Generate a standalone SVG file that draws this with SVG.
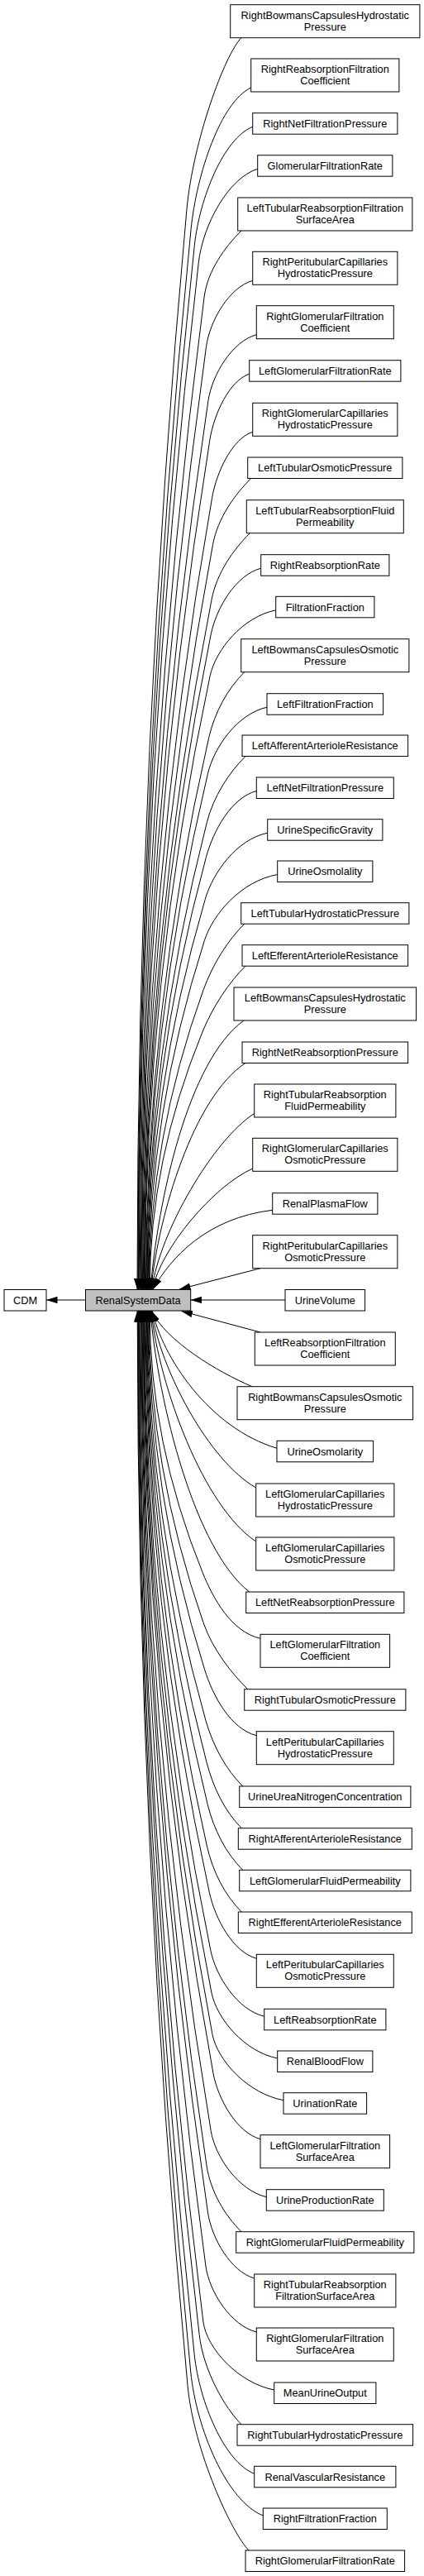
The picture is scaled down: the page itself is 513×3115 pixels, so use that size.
<svg xmlns="http://www.w3.org/2000/svg" width="513" height="3115" viewBox="0 0 513 3115">
<defs>
<style>
.node rect{fill:#fff;stroke:#000;stroke-width:1}
.node.main rect{fill:#bfbfbf}
.node text{font-family:"Liberation Sans",Arial,Helvetica,sans-serif;font-size:12.8px;text-anchor:middle;fill:#000}
#edges path{fill:none;stroke:#000;stroke-width:1;marker-end:url(#ah)}
</style>
<marker id="ah" markerUnits="userSpaceOnUse" markerWidth="14" markerHeight="9" refX="13.5" refY="4.2" orient="auto">
<path d="M0,0 L13.5,4.2 L0,8.4 Z" fill="#000" stroke="none"/>
</marker>
</defs>
<rect width="513" height="3115" fill="#fff"/>
<g id="edges">
<path d="M103.5,1572 L56,1572"/>
<path d="M292,45.7 C272,65.7 233.5,170.5 225.9,253.7 Q166,906.4 166,1559"/>
<path d="M303.7,106 C267.4,123.2 237.9,209.1 231,277.8 Q166.8,918.4 166.8,1559"/>
<path d="M305.7,153.2 C270.5,167.6 241.5,239.3 235.3,296.7 Q167.4,927.9 167.4,1559"/>
<path d="M311.7,204.2 C276,215.5 245.6,271.9 240.3,317.1 Q168.1,938.1 168.1,1559"/>
<path d="M292,279 C272,299 251.3,327 247.1,359 Q169.1,959 169.1,1559"/>
<path d="M305.7,339.3 C277.6,347.3 254,387.3 249.5,419.3 Q170,989.2 170,1559"/>
<path d="M310.3,404.7 C281.1,412.7 256.7,452.7 251.9,484.7 Q170.8,1021.9 170.8,1559"/>
<path d="M301.7,452.2 C277.7,460.2 258.9,500.2 253.8,532.2 Q171.5,1045.6 171.5,1559"/>
<path d="M305.7,522.3 C281.1,530.3 262.1,570.3 256.5,602.3 Q172.4,1080.7 172.4,1559"/>
<path d="M303.7,578.5 C283.7,598.5 263.5,626.5 257.5,658.5 Q173.2,1108.8 173.2,1559"/>
<path d="M302.3,644.7 C282.3,664.7 262.4,692.7 256.1,724.7 Q174.1,1141.9 174.1,1559"/>
<path d="M315.7,687.2 C285.4,695.2 261.7,735.2 255.2,767.2 Q174.7,1163.1 174.7,1559"/>
<path d="M333.7,737.8 C293.8,745.8 260.8,785.8 254,817.8 Q175.3,1188.4 175.3,1559"/>
<path d="M295.7,812.7 C275.7,832.7 259.8,860.7 252.5,892.7 Q176.4,1225.9 176.4,1559"/>
<path d="M323,855.2 C287.3,863.2 259.2,903.2 251.5,935.2 Q176.9,1247.1 176.9,1559"/>
<path d="M297,914.5 C277,934.5 258.5,962.5 250.3,994.5 Q177.7,1276.8 177.7,1559"/>
<path d="M310.3,956.5 C279.8,964.5 258.1,1004.5 249.4,1036.5 Q178.3,1297.8 178.3,1559"/>
<path d="M323.7,1007.2 C286,1015.2 257.7,1055.2 248.3,1087.2 Q179,1323.1 179,1559"/>
<path d="M335.7,1057.5 C291.5,1065.5 257.6,1105.5 247.3,1137.5 Q179.7,1348.3 179.7,1559"/>
<path d="M295.7,1117.2 C275.7,1137.2 257.6,1165.2 246,1197.2 Q180.5,1378.1 180.5,1559"/>
<path d="M297,1168.2 C277,1188.2 257.9,1216.2 244.8,1248.2 Q181.1,1403.6 181.1,1559"/>
<path d="M295,1234 C227.2,1282.8 191,1451.7 182,1559"/>
<path d="M297,1285.5 C234.1,1326.5 191.8,1468.7 182.7,1559"/>
<path d="M307.7,1346.5 C258.1,1378.4 193.5,1488.9 183.6,1559"/>
<path d="M305.7,1413 C257.2,1434.9 194.2,1510.8 184.5,1559"/>
<path d="M329.7,1463.3 C250.2,1472.9 206.8,1520.7 185.1,1559"/>
<path d="M315,1533.7 L217,1559"/>
<path d="M345,1572 L230.7,1572"/>
<path d="M315,1611 L219.5,1585.5"/>
<path d="M305,1676.7 C262.3,1658.4 201.3,1621.7 183,1585"/>
<path d="M335,1751.3 C252.1,1726.4 196.3,1639.9 184.2,1585"/>
<path d="M309.7,1799 C252.9,1766.9 193.6,1655.6 183.5,1585"/>
<path d="M309.7,1864 C246.2,1822.1 192.9,1677.1 182.7,1585"/>
<path d="M301.7,1925 C235.8,1874 191.4,1697.2 181.8,1585"/>
<path d="M315,1981.3 C280,1973.3 257.9,1933.3 245,1901.3 Q181.1,1743.2 181.1,1585"/>
<path d="M299.7,2042.7 C279.7,2022.7 257.4,1994.7 246.2,1962.7 Q180.2,1773.9 180.2,1585"/>
<path d="M310.3,2098.7 C278.9,2090.7 257.5,2050.7 247.5,2018.7 Q179.5,1801.9 179.5,1585"/>
<path d="M293.7,2160 C273.7,2140 257.9,2112 248.8,2080 Q178.7,1832.5 178.7,1585"/>
<path d="M292.3,2210.7 C272.3,2190.7 258.3,2162.7 249.9,2130.7 Q178,1857.9 178,1585"/>
<path d="M293.7,2261.3 C273.7,2241.3 258.9,2213.3 251,2181.3 Q177.3,1883.2 177.3,1585"/>
<path d="M292.3,2312 C272.3,2292 257.6,2264 250.3,2232 Q176.6,1908.5 176.6,1585"/>
<path d="M310.3,2368.3 C281.8,2360.3 260.3,2320.3 253.3,2288.3 Q175.9,1936.7 175.9,1585"/>
<path d="M319.7,2438.3 C287.2,2430.3 261.4,2390.3 254.8,2358.3 Q174.9,1971.7 174.9,1585"/>
<path d="M335.7,2489 C295.7,2481 262.1,2441 255.8,2409 Q174.2,1997 174.2,1585"/>
<path d="M343,2539.7 C300,2531.7 263,2491.7 256.9,2459.7 Q173.5,2022.4 173.5,1585"/>
<path d="M315,2586.7 C286.5,2578.7 263.8,2538.7 257.9,2506.7 Q172.9,2045.9 172.9,1585"/>
<path d="M322.3,2656.7 C288.7,2648.7 260.6,2608.7 255.2,2576.7 Q172,2080.9 172,1585"/>
<path d="M292,2698.7 C272,2678.7 254.9,2650.7 250,2618.7 Q171.4,2101.9 171.4,1585"/>
<path d="M307.7,2755 C279.5,2747 256.1,2707 251.4,2675 Q170.6,2130 170.6,1585"/>
<path d="M310.3,2820 C279.6,2812 253.3,2772 248.9,2740 Q169.8,2162.5 169.8,1585"/>
<path d="M331.7,2890 C288.7,2881.7 250,2840.2 245.8,2807 Q168.8,2196 168.8,1585"/>
<path d="M292,2931.7 C272,2911.7 246.3,2866.9 241.2,2823.7 Q168.2,2204.4 168.2,1585"/>
<path d="M307.7,2991.3 C271.4,2976.9 241.4,2905 235.2,2847.5 Q167.4,2216.3 167.4,1585"/>
<path d="M318.3,3042 C274.5,3024.6 237.6,2937.5 230.7,2867.8 Q166.8,2226.4 166.8,1585"/>
<path d="M301,3084 C281,3064 234.5,2964.4 227,2884.6 Q166.2,2234.8 166.2,1585"/>
</g>
<g id="CDM" class="node"><rect x="5" y="1559.5" width="51" height="25.5"/><text x="30.5" y="1576.8">CDM</text></g>
<g id="RenalSystemData" class="node main"><rect x="103.5" y="1559.5" width="127.2" height="25.5"/><text x="167.1" y="1576.8">RenalSystemData</text></g>
<g id="RightBowmansCapsulesHydrostaticPressure" class="node"><rect x="278.7" y="5.7" width="229.2" height="40"/><text x="393.3" y="22.5">RightBowmansCapsulesHydrostatic</text><text x="393.3" y="36.7">Pressure</text></g>
<g id="RightReabsorptionFiltrationCoefficient" class="node"><rect x="303.7" y="71" width="179.2" height="40"/><text x="393.3" y="87.8">RightReabsorptionFiltration</text><text x="393.3" y="102">Coefficient</text></g>
<g id="RightNetFiltrationPressure" class="node"><rect x="305.7" y="136.7" width="175.2" height="25.5"/><text x="393.3" y="154">RightNetFiltrationPressure</text></g>
<g id="GlomerularFiltrationRate" class="node"><rect x="311.7" y="187.7" width="163.2" height="25.5"/><text x="393.3" y="205">GlomerularFiltrationRate</text></g>
<g id="LeftTubularReabsorptionFiltrationSurfaceArea" class="node"><rect x="287.7" y="239" width="211.2" height="40"/><text x="393.3" y="255.8">LeftTubularReabsorptionFiltration</text><text x="393.3" y="270">SurfaceArea</text></g>
<g id="RightPeritubularCapillariesHydrostaticPressure" class="node"><rect x="305.7" y="304.3" width="175.2" height="40"/><text x="393.3" y="321.1">RightPeritubularCapillaries</text><text x="393.3" y="335.3">HydrostaticPressure</text></g>
<g id="RightGlomerularFiltrationCoefficient" class="node"><rect x="310.3" y="369.7" width="166" height="40"/><text x="393.3" y="386.5">RightGlomerularFiltration</text><text x="393.3" y="400.7">Coefficient</text></g>
<g id="LeftGlomerularFiltrationRate" class="node"><rect x="301.7" y="435.7" width="183.2" height="25.5"/><text x="393.3" y="453">LeftGlomerularFiltrationRate</text></g>
<g id="RightGlomerularCapillariesHydrostaticPressure" class="node"><rect x="305.7" y="487.3" width="175.2" height="40"/><text x="393.3" y="504.1">RightGlomerularCapillaries</text><text x="393.3" y="518.3">HydrostaticPressure</text></g>
<g id="LeftTubularOsmoticPressure" class="node"><rect x="299.7" y="553" width="187.2" height="25.5"/><text x="393.3" y="570.3">LeftTubularOsmoticPressure</text></g>
<g id="LeftTubularReabsorptionFluidPermeability" class="node"><rect x="298.3" y="604.7" width="190" height="40"/><text x="393.3" y="621.5">LeftTubularReabsorptionFluid</text><text x="393.3" y="635.7">Permeability</text></g>
<g id="RightReabsorptionRate" class="node"><rect x="315.7" y="670.7" width="155.2" height="25.5"/><text x="393.3" y="688">RightReabsorptionRate</text></g>
<g id="FiltrationFraction" class="node"><rect x="333.7" y="721.3" width="119.2" height="25.5"/><text x="393.3" y="738.6">FiltrationFraction</text></g>
<g id="LeftBowmansCapsulesOsmoticPressure" class="node"><rect x="291.7" y="772.7" width="203.2" height="40"/><text x="393.3" y="789.5">LeftBowmansCapsulesOsmotic</text><text x="393.3" y="803.7">Pressure</text></g>
<g id="LeftFiltrationFraction" class="node"><rect x="323" y="838.7" width="140.6" height="25.5"/><text x="393.3" y="856">LeftFiltrationFraction</text></g>
<g id="LeftAfferentArterioleResistance" class="node"><rect x="293" y="889" width="200.6" height="25.5"/><text x="393.3" y="906.3">LeftAfferentArterioleResistance</text></g>
<g id="LeftNetFiltrationPressure" class="node"><rect x="310.3" y="940" width="166" height="25.5"/><text x="393.3" y="957.3">LeftNetFiltrationPressure</text></g>
<g id="UrineSpecificGravity" class="node"><rect x="323.7" y="990.7" width="139.2" height="25.5"/><text x="393.3" y="1008">UrineSpecificGravity</text></g>
<g id="UrineOsmolality" class="node"><rect x="335.7" y="1041" width="115.2" height="25.5"/><text x="393.3" y="1058.3">UrineOsmolality</text></g>
<g id="LeftTubularHydrostaticPressure" class="node"><rect x="291.7" y="1091.7" width="203.2" height="25.5"/><text x="393.3" y="1109">LeftTubularHydrostaticPressure</text></g>
<g id="LeftEfferentArterioleResistance" class="node"><rect x="293" y="1142.7" width="200.6" height="25.5"/><text x="393.3" y="1160">LeftEfferentArterioleResistance</text></g>
<g id="LeftBowmansCapsulesHydrostaticPressure" class="node"><rect x="283" y="1194" width="220.6" height="40"/><text x="393.3" y="1210.8">LeftBowmansCapsulesHydrostatic</text><text x="393.3" y="1225">Pressure</text></g>
<g id="RightNetReabsorptionPressure" class="node"><rect x="293" y="1260" width="200.6" height="25.5"/><text x="393.3" y="1277.3">RightNetReabsorptionPressure</text></g>
<g id="RightTubularReabsorptionFluidPermeability" class="node"><rect x="307.7" y="1311" width="171.2" height="40"/><text x="393.3" y="1327.8">RightTubularReabsorption</text><text x="393.3" y="1342">FluidPermeability</text></g>
<g id="RightGlomerularCapillariesOsmoticPressure" class="node"><rect x="305.7" y="1376.3" width="175.2" height="40"/><text x="393.3" y="1393.1">RightGlomerularCapillaries</text><text x="393.3" y="1407.3">OsmoticPressure</text></g>
<g id="RenalPlasmaFlow" class="node"><rect x="329.7" y="1442.7" width="127.2" height="25.5"/><text x="393.3" y="1460">RenalPlasmaFlow</text></g>
<g id="RightPeritubularCapillariesOsmoticPressure" class="node"><rect x="305.7" y="1493.7" width="175.2" height="40"/><text x="393.3" y="1510.5">RightPeritubularCapillaries</text><text x="393.3" y="1524.7">OsmoticPressure</text></g>
<g id="UrineVolume" class="node"><rect x="345" y="1559.5" width="96.6" height="25.5"/><text x="393.3" y="1576.8">UrineVolume</text></g>
<g id="LeftReabsorptionFiltrationCoefficient" class="node"><rect x="308.3" y="1611" width="170" height="40"/><text x="393.3" y="1627.8">LeftReabsorptionFiltration</text><text x="393.3" y="1642">Coefficient</text></g>
<g id="RightBowmansCapsulesOsmoticPressure" class="node"><rect x="287" y="1676.7" width="212.6" height="40"/><text x="393.3" y="1693.5">RightBowmansCapsulesOsmotic</text><text x="393.3" y="1707.7">Pressure</text></g>
<g id="UrineOsmolarity" class="node"><rect x="335" y="1742.3" width="116.6" height="25.5"/><text x="393.3" y="1759.6">UrineOsmolarity</text></g>
<g id="LeftGlomerularCapillariesHydrostaticPressure" class="node"><rect x="309.7" y="1794" width="167.2" height="40"/><text x="393.3" y="1810.8">LeftGlomerularCapillaries</text><text x="393.3" y="1825">HydrostaticPressure</text></g>
<g id="LeftGlomerularCapillariesOsmoticPressure" class="node"><rect x="309.7" y="1859" width="167.2" height="40"/><text x="393.3" y="1875.8">LeftGlomerularCapillaries</text><text x="393.3" y="1890">OsmoticPressure</text></g>
<g id="LeftNetReabsorptionPressure" class="node"><rect x="297.7" y="1925" width="191.2" height="25.5"/><text x="393.3" y="1942.3">LeftNetReabsorptionPressure</text></g>
<g id="LeftGlomerularFiltrationCoefficient" class="node"><rect x="315" y="1976.3" width="156.6" height="40"/><text x="393.3" y="1993.1">LeftGlomerularFiltration</text><text x="393.3" y="2007.3">Coefficient</text></g>
<g id="RightTubularOsmoticPressure" class="node"><rect x="295.7" y="2042.7" width="195.2" height="25.5"/><text x="393.3" y="2060">RightTubularOsmoticPressure</text></g>
<g id="LeftPeritubularCapillariesHydrostaticPressure" class="node"><rect x="310.3" y="2093.7" width="166" height="40"/><text x="393.3" y="2110.5">LeftPeritubularCapillaries</text><text x="393.3" y="2124.7">HydrostaticPressure</text></g>
<g id="UrineUreaNitrogenConcentration" class="node"><rect x="289.7" y="2160" width="207.2" height="25.5"/><text x="393.3" y="2177.3">UrineUreaNitrogenConcentration</text></g>
<g id="RightAfferentArterioleResistance" class="node"><rect x="288.3" y="2210.7" width="210" height="25.5"/><text x="393.3" y="2228">RightAfferentArterioleResistance</text></g>
<g id="LeftGlomerularFluidPermeability" class="node"><rect x="289.7" y="2261.3" width="207.2" height="25.5"/><text x="393.3" y="2278.6">LeftGlomerularFluidPermeability</text></g>
<g id="RightEfferentArterioleResistance" class="node"><rect x="288.3" y="2312" width="210" height="25.5"/><text x="393.3" y="2329.3">RightEfferentArterioleResistance</text></g>
<g id="LeftPeritubularCapillariesOsmoticPressure" class="node"><rect x="310.3" y="2363.3" width="166" height="40"/><text x="393.3" y="2380.1">LeftPeritubularCapillaries</text><text x="393.3" y="2394.3">OsmoticPressure</text></g>
<g id="LeftReabsorptionRate" class="node"><rect x="319.7" y="2429.3" width="147.2" height="25.5"/><text x="393.3" y="2446.6">LeftReabsorptionRate</text></g>
<g id="RenalBloodFlow" class="node"><rect x="335.7" y="2480" width="115.2" height="25.5"/><text x="393.3" y="2497.3">RenalBloodFlow</text></g>
<g id="UrinationRate" class="node"><rect x="343" y="2530.7" width="100.6" height="25.5"/><text x="393.3" y="2548">UrinationRate</text></g>
<g id="LeftGlomerularFiltrationSurfaceArea" class="node"><rect x="315" y="2581.7" width="156.6" height="40"/><text x="393.3" y="2598.5">LeftGlomerularFiltration</text><text x="393.3" y="2612.7">SurfaceArea</text></g>
<g id="UrineProductionRate" class="node"><rect x="322.3" y="2647.7" width="142" height="25.5"/><text x="393.3" y="2665">UrineProductionRate</text></g>
<g id="RightGlomerularFluidPermeability" class="node"><rect x="285.7" y="2698.7" width="215.2" height="25.5"/><text x="393.3" y="2716">RightGlomerularFluidPermeability</text></g>
<g id="RightTubularReabsorptionFiltrationSurfaceArea" class="node"><rect x="307.7" y="2750" width="171.2" height="40"/><text x="393.3" y="2766.8">RightTubularReabsorption</text><text x="393.3" y="2781">FiltrationSurfaceArea</text></g>
<g id="RightGlomerularFiltrationSurfaceArea" class="node"><rect x="310.3" y="2815" width="166" height="40"/><text x="393.3" y="2831.8">RightGlomerularFiltration</text><text x="393.3" y="2846">SurfaceArea</text></g>
<g id="MeanUrineOutput" class="node"><rect x="331.7" y="2881" width="123.2" height="25.5"/><text x="393.3" y="2898.3">MeanUrineOutput</text></g>
<g id="RightTubularHydrostaticPressure" class="node"><rect x="287" y="2931.7" width="212.6" height="25.5"/><text x="393.3" y="2949">RightTubularHydrostaticPressure</text></g>
<g id="RenalVascularResistance" class="node"><rect x="307.7" y="2982.3" width="171.2" height="25.5"/><text x="393.3" y="2999.6">RenalVascularResistance</text></g>
<g id="RightFiltrationFraction" class="node"><rect x="318.3" y="3033" width="150" height="25.5"/><text x="393.3" y="3050.3">RightFiltrationFraction</text></g>
<g id="RightGlomerularFiltrationRate" class="node"><rect x="297" y="3084" width="192.6" height="25.5"/><text x="393.3" y="3101.3">RightGlomerularFiltrationRate</text></g>
</svg>
